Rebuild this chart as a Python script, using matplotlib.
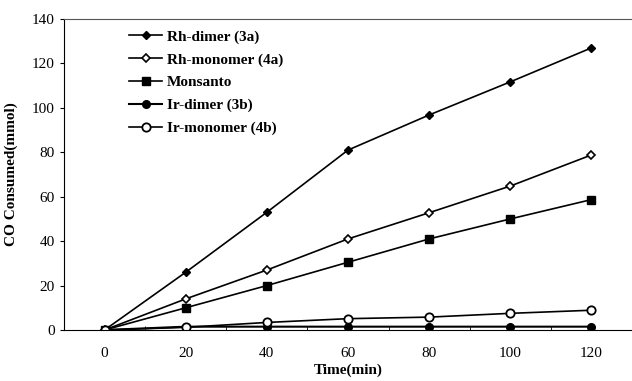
import matplotlib
matplotlib.use("Agg")
import matplotlib.pyplot as plt
from matplotlib.ticker import MultipleLocator, FixedLocator

plt.rcParams['font.family'] = ['Liberation Serif', 'DejaVu Serif']

time = [0, 20, 40, 60, 80, 100, 120]
rh_dimer = [0, 26, 53, 81, 96.8, 111.7, 127]
rh_monomer = [0, 14, 27, 41, 52.8, 64.8, 78.8]
monsanto = [0, 10, 20, 30.5, 41, 50, 58.7]
ir_dimer = [0, 1.5, 1.5, 1.5, 1.5, 1.5, 1.5]
ir_monomer = [0, 1.2, 3.4, 5.1, 5.8, 7.5, 8.9]
labels = ["Rh-dimer (3a)", "Rh-monomer (4a)", "Monsanto", "Ir-dimer (3b)", "Ir-monomer (4b)"]

fig = plt.figure(figsize=(6.32, 3.81), dpi=100)
ax = fig.add_axes([64/632, 1-330/381, 568/632, 311/381])

ax.plot(time, rh_dimer, '-', color='black', lw=1.2, marker='D', ms=4.5, mfc='black', mec='black', label=labels[0])
ax.plot(time, rh_monomer, '-', color='black', lw=1.2, marker='D', ms=4.5, mfc='white', mec='black', mew=1.2, label=labels[1])
ax.plot(time, monsanto, '-', color='black', lw=1.2, marker='s', ms=5.5, mfc='black', mec='black', label=labels[2])
ax.plot(time, ir_dimer, '-', color='black', lw=1.5, marker='o', ms=5.5, mfc='black', mec='black', label=labels[3])
ax.plot(time, ir_monomer, '-', color='black', lw=1.2, marker='o', ms=6, mfc='white', mec='black', mew=1.3, label=labels[4])

ax.set_xlim(-10, 130)
ax.set_ylim(0, 140)
ax.yaxis.set_major_locator(MultipleLocator(20))
ax.set_xticks(time)
ax.tick_params(axis='x', which='major', length=0, pad=12, labelsize=11)
ax.xaxis.set_minor_locator(FixedLocator(list(range(-10, 131, 20))))
ax.tick_params(axis='x', which='minor', direction='in', length=3)
ax.tick_params(axis='y', which='major', direction='out', length=3, labelsize=11)

ax.spines['right'].set_visible(False)
ax.spines['top'].set_color('#555555')
ax.spines['top'].set_linewidth(0.8)

ax.set_xlabel("Time(min)", fontweight='bold', fontsize=11, labelpad=3)
ax.set_ylabel("CO Consumed(mmol)", fontweight='bold', fontsize=11, labelpad=10)

leg = ax.legend(loc='upper left', bbox_to_anchor=(0.09, 1.01), frameon=False,
                prop={'weight': 'bold', 'size': 11}, handlelength=2.2, labelspacing=0.6,
                handletextpad=0.3)

fig.savefig("out.png", dpi=100)
